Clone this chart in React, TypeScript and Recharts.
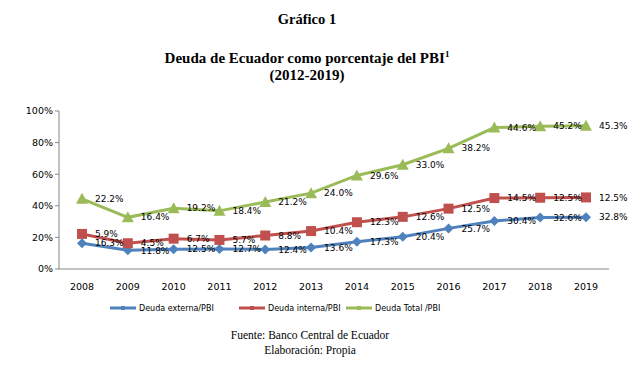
import { AreaChart, Area, XAxis, YAxis } from 'recharts'

const years = ['2008', '2009', '2010', '2011', '2012', '2013', '2014', '2015', '2016', '2017', '2018', '2019']
const externa = [16.3, 11.8, 12.5, 12.7, 12.4, 13.6, 17.3, 20.4, 25.7, 30.4, 32.6, 32.8]
const interna = [5.9, 4.5, 6.7, 5.7, 8.8, 10.4, 12.3, 12.6, 12.5, 14.5, 12.5, 12.5]
const total = [22.2, 16.4, 19.2, 18.4, 21.2, 24.0, 29.6, 33.0, 38.2, 44.6, 45.2, 45.3]
const yTicks = [0, 20, 40, 60, 80, 100]

const BLUE = '#4f81bd'
const RED = '#c0504d'
const GREEN = '#9bbb59'

const data = years.map((year, i) => ({ year, externa: externa[i], interna: interna[i], total: total[i] }))

const SANS = '"DejaVu Sans", sans-serif'
const SERIF = '"Liberation Serif", "Times New Roman", serif'

const Diamond = ({ cx, cy, fill }: { cx: number; cy: number; fill: string }) => (
  <path d={`M${cx},${cy - 5}L${cx + 5},${cy}L${cx},${cy + 5}L${cx - 5},${cy}Z`} fill={fill} />
)
const Square = ({ cx, cy, fill }: { cx: number; cy: number; fill: string }) => (
  <rect x={cx - 5} y={cy - 5} width={10} height={10} fill={fill} />
)
const Triangle = ({ cx, cy, fill }: { cx: number; cy: number; fill: string }) => (
  <path d={`M${cx},${cy - 6}L${cx + 6},${cy + 5}L${cx - 6},${cy + 5}Z`} fill={fill} />
)

const makeLabel = (values: number[]) => (p: any) => (
  <text
    key={`l-${p.index}`}
    x={p.x + 13}
    y={p.y}
    dy="0.35em"
    fontSize={9}
    fontFamily={SANS}
    fill="#000"
  >
    {values[p.index].toFixed(1)}%
  </text>
)

const legendItems = [
  { name: 'Deuda externa/PBI', color: BLUE, left: 110 },
  { name: 'Deuda interna/PBI', color: RED, left: 239 },
  { name: 'Deuda Total /PBI', color: GREEN, left: 346 },
]

export default function App() {
  return (
    <div style={{ position: 'absolute', left: 0, top: 0, width: 640, height: 370, background: '#fff' }}>
      <div style={{ position: 'absolute', top: 11, width: 614, textAlign: 'center', fontFamily: SERIF, fontWeight: 'bold', fontSize: 14.5 }}>
        Gráfico 1
      </div>
      <div style={{ position: 'absolute', top: 46, width: 614, textAlign: 'center', fontFamily: SERIF, fontWeight: 'bold', fontSize: 15, lineHeight: '17px' }}>
        Deuda de Ecuador como porcentaje del PBI<sup style={{ fontSize: 9 }}>1</sup>
        <br />
        (2012-2019)
      </div>

      <AreaChart
        width={640}
        height={370}
        data={data}
        margin={{ top: 111, right: 31, bottom: 81, left: 19 }}
      >
        <XAxis
          dataKey="year"
          padding={{ left: 23, right: 23 }}
          tickLine={false}
          axisLine={{ stroke: '#868686' }}
          tick={{ fontSize: 9.5, fontFamily: SANS, fill: '#000' }}
          tickMargin={8}
          height={20}
          interval={0}
        />
        <YAxis
          domain={[0, 100]}
          ticks={yTicks}
          tickFormatter={(v: number) => `${v}%`}
          width={40}
          axisLine={{ stroke: '#868686' }}
          tickLine={{ stroke: '#868686' }}
          tickSize={4}
          tick={{ fontSize: 9.5, fontFamily: SANS, fill: '#000' }}
        />
        <Area
          type="linear"
          dataKey="externa"
          stackId="a"
          stroke={BLUE}
          strokeWidth={3}
          fill="none"
          isAnimationActive={false}
          dot={(p: any) => <Diamond key={`d-${p.index}`} cx={p.cx} cy={p.cy} fill={BLUE} />}
          label={makeLabel(externa)}
        />
        <Area
          type="linear"
          dataKey="interna"
          stackId="a"
          stroke={RED}
          strokeWidth={3}
          fill="none"
          isAnimationActive={false}
          dot={(p: any) => <Square key={`s-${p.index}`} cx={p.cx} cy={p.cy} fill={RED} />}
          label={makeLabel(interna)}
        />
        <Area
          type="linear"
          dataKey="total"
          stackId="a"
          stroke={GREEN}
          strokeWidth={3}
          fill="none"
          isAnimationActive={false}
          dot={(p: any) => <Triangle key={`t-${p.index}`} cx={p.cx} cy={p.cy} fill={GREEN} />}
          label={makeLabel(total)}
        />
      </AreaChart>

      {legendItems.map(item => (
        <div
          key={item.name}
          style={{ position: 'absolute', left: item.left, top: 303, display: 'flex', alignItems: 'center', fontFamily: SANS, fontSize: 8 }}
        >
          <svg width={26} height={10} style={{ marginRight: 3 }}>
            <line x1={0} y1={5} x2={26} y2={5} stroke={item.color} strokeWidth={3} />
            <rect x={11} y={3} width={4} height={4} fill={item.color} />
          </svg>
          <span>{item.name}</span>
        </div>
      ))}

      <div style={{ position: 'absolute', top: 328, width: 620, textAlign: 'center', fontFamily: SERIF, fontSize: 11.5, lineHeight: '15px' }}>
        Fuente: Banco Central de Ecuador
        <br />
        Elaboración: Propia
      </div>
    </div>
  )
}
